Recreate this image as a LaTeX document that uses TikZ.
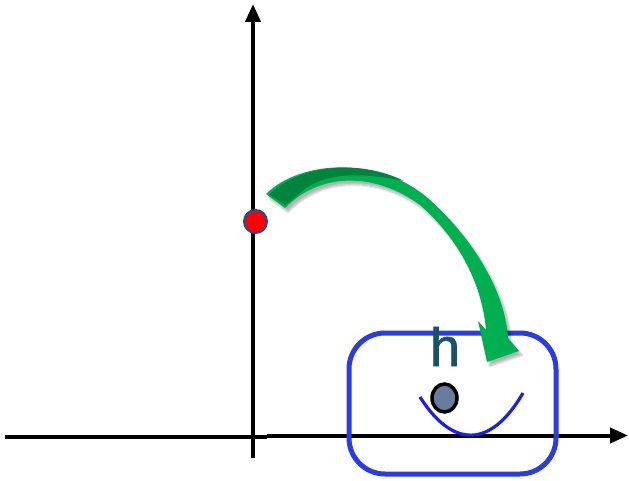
\documentclass[tikz,border=0pt]{standalone}
\usepackage{fontspec}
\setmainfont{Liberation Sans}
\newfontfamily\hfont{Liberation Sans}[FakeBold=1.2]
\usetikzlibrary{arrows.meta,shadows.blur,shapes.geometric}
\definecolor{axisblack}{RGB}{0,0,0}
\definecolor{boxblue}{RGB}{42,60,226}
\definecolor{parblue}{RGB}{30,30,230}
\definecolor{arrowgreen}{RGB}{0,176,80}
\definecolor{arrowdark}{RGB}{0,132,61}
\definecolor{dotred}{RGB}{255,0,0}
\definecolor{dotborder}{RGB}{31,78,150}
\definecolor{dotgray}{RGB}{104,124,158}
\definecolor{hteal}{RGB}{28,82,104}
\tikzset{
  axisline/.style={line width=4pt, draw=axisblack},
  axisarrow/.style={axisline, -{Triangle[length=18pt,width=15pt]}},
  statebox/.style={draw=boxblue, line width=5pt, rounded corners=36pt},
  potential/.style={draw=parblue, line width=3.2pt},
  reddot/.style={circle, fill=dotred, draw=dotborder, line width=2pt, minimum size=23pt, inner sep=0pt},
  graydot/.style={ellipse, fill=dotgray, draw=black, line width=3.5pt, minimum width=25pt, minimum height=28pt, inner sep=0pt},
}
\begin{document}
\begin{tikzpicture}[x=1pt,y=-1pt]
\useasboundingbox (0,0) rectangle (629,481);
% axes
\coordinate (xl) at (5,437);
\coordinate (xm) at (267,437);
\coordinate (xm2) at (267,435.5);
\coordinate (xr) at (628,435.5);
\coordinate (yb) at (253,458);
\coordinate (yt) at (253,4);
\draw[axisline] (xl) -- (xm);
\draw[axisarrow] (xm2) -- (xr);
\draw[axisarrow] (yb) -- (yt);
% blue box
\draw[statebox] (349,333) rectangle (556,474);
% parabola
\coordinate (pl) at (420,397);
\coordinate (pr) at (523,393);
\draw[potential] (pl) .. controls (453,449) and (491,448) .. (pr);
% gray dot
\node[graydot] (ball) at (444.5,398) {};
% h label
\node[anchor=base, inner sep=0pt, text=hteal, font=\hfont\fontsize{54}{54}\selectfont] (h) at (445,366) {h};
% green curved arrow
\fill[arrowgreen, blur shadow={shadow xshift=3pt, shadow yshift=-4pt, shadow blur steps=8, shadow opacity=30}]
  (266,194) .. controls (300,160) and (380,155) .. (430,200)
  .. controls (472,238) and (505,290) .. (508,338)
  -- (519,351) -- (487,362) -- (478,321) -- (486,330)
  .. controls (482,285) and (460,240) .. (420,205)
  .. controls (375,172) and (320,172) .. (285,208) -- cycle;
\fill[arrowdark]
  (269,194.5) .. controls (302,163) and (362,160) .. (404,181)
  .. controls (365,173) and (330,172) .. (306,188)
  -- (285.5,205) -- cycle;
% red dot
\node[reddot] (start) at (255.5,221.5) {};
\end{tikzpicture}
\end{document}
